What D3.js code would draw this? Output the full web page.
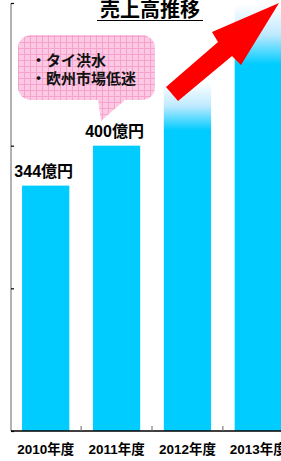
<!DOCTYPE html>
<html>
<head>
<meta charset="utf-8">
<script src="https://d3js.org/d3.v7.min.js"></script>
<style>
  body { margin: 0; background: #fff; }
  text { font-family: "Liberation Sans", "Noto Sans CJK JP", sans-serif; font-weight: bold; }
</style>
</head>
<body>
<div id="chart"></div>
<script>
var years = ["2010年度", "2011年度", "2012年度", "2013年度"];
var sales = [344, 400, 490, 598];
var valueLabels = ["344億円", "400億円", null, null];
var yTicks = [0, 200, 400, 600];
var notes = ["・タイ洪水", "・欧州市場低迷"];
var title = "売上高推移";

var width = 281, height = 461;
var margin = {top: 3, left: 11, bottom: 30};

var svg = d3.select("#chart").append("svg")
    .attr("width", width)
    .attr("height", height);

var defs = svg.append("defs");

// fade at the top of forecast bars
var grad = defs.append("linearGradient")
    .attr("id", "fade")
    .attr("x1", 0).attr("y1", 0).attr("x2", 0).attr("y2", 1);
grad.append("stop").attr("offset", "0").attr("stop-color", "#ffffff");
grad.append("stop").attr("offset", "0.07").attr("stop-color", "#bfeaff");
grad.append("stop").attr("offset", "0.14").attr("stop-color", "#00ccff");
grad.append("stop").attr("offset", "1").attr("stop-color", "#00ccff");

var pat = defs.append("pattern")
    .attr("id", "grid")
    .attr("patternUnits", "userSpaceOnUse")
    .attr("width", 6).attr("height", 6);
pat.append("rect").attr("width", 6).attr("height", 6).attr("fill", "#fcc8e3");
pat.append("path").attr("d", "M0,0.5H6M0.5,0V6")
    .attr("stroke", "#f5a3cc").attr("stroke-width", 1);

var x = d3.scaleBand()
    .domain(years)
    .range([margin.left, 293])
    .paddingInner(0.333)
    .paddingOuter(0.156);

var y = d3.scaleLinear()
    .domain([0, 600])
    .range([height - margin.bottom, margin.top]);

// bars
svg.selectAll("rect.bar")
    .data(sales)
    .enter().append("rect")
    .attr("class", "bar")
    .attr("x", function(d, i) { return x(years[i]); })
    .attr("width", x.bandwidth())
    .attr("y", function(d) { return y(d); })
    .attr("height", function(d) { return y(0) - y(d); })
    .attr("fill", function(d, i) { return i >= 2 ? "url(#fade)" : "#00ccff"; });

// y axis
var yAxis = d3.axisLeft(y).tickValues(yTicks).tickSize(-3).tickFormat("");
var ya = svg.append("g")
    .attr("transform", "translate(" + margin.left + ",0)")
    .call(yAxis);
ya.select(".domain").attr("stroke", "#999").attr("stroke-width", 1.5).attr("d",
    "M0," + y(600) + "V" + y(0));
ya.selectAll(".tick line").attr("stroke", "#000").attr("stroke-width", 1.2);

// baseline + category ticks
svg.append("line")
    .attr("x1", margin.left).attr("x2", width)
    .attr("y1", y(0)).attr("y2", y(0))
    .attr("stroke", "#000").attr("stroke-width", 1.5);

var step = x.step();
svg.selectAll("line.ctick")
    .data(years.slice(0, 3))
    .enter().append("line")
    .attr("class", "ctick")
    .attr("x1", function(d) { return x(d) + x.bandwidth() + step * x.paddingInner() / 2; })
    .attr("x2", function(d) { return x(d) + x.bandwidth() + step * x.paddingInner() / 2; })
    .attr("y1", y(0)).attr("y2", y(0) - 5)
    .attr("stroke", "#666").attr("stroke-width", 1);

// category labels
svg.selectAll("text.cat")
    .data(years)
    .enter().append("text")
    .attr("class", "cat")
    .attr("x", function(d) { return x(d) + x.bandwidth() / 2; })
    .attr("y", 454)
    .attr("text-anchor", "middle")
    .attr("font-size", 13.5)
    .text(function(d) { return d; });

// value labels
svg.selectAll("text.val")
    .data(sales)
    .enter().filter(function(d, i) { return valueLabels[i]; })
    .append("text")
    .attr("class", "val")
    .attr("x", function(d, i) { return x(years[i]) + x.bandwidth() / 2 - 2; })
    .attr("y", function(d) { return y(d) - 9; })
    .attr("text-anchor", "middle")
    .attr("font-size", 16)
    .text(function(d, i) { return valueLabels[i]; });

// title
svg.append("text")
    .attr("x", 150).attr("y", 17)
    .attr("text-anchor", "middle")
    .attr("font-size", 20)
    .text(title);
svg.append("line")
    .attr("x1", 97).attr("x2", 203)
    .attr("y1", 20.5).attr("y2", 20.5)
    .attr("stroke", "#000").attr("stroke-width", 1.2);

// callout
var callout = svg.append("g");
callout.append("path")
    .attr("d", "M98,99 L101,121 L126,99 Z")
    .attr("fill", "url(#grid)");
callout.append("rect")
    .attr("x", 18).attr("y", 35)
    .attr("width", 137).attr("height", 65)
    .attr("rx", 13).attr("ry", 13)
    .attr("fill", "url(#grid)");
callout.selectAll("text")
    .data(notes)
    .enter().append("text")
    .attr("x", 31)
    .attr("y", function(d, i) { return 66 + i * 18; })
    .attr("font-size", 15)
    .attr("fill", "#111")
    .text(function(d) { return d; });

// growth arrow
svg.append("polygon")
    .attr("points", "166,87 218,42 212,32 279,3 241,65 232,56 178,101")
    .attr("fill", "#ff0000");
</script>
</body>
</html>
